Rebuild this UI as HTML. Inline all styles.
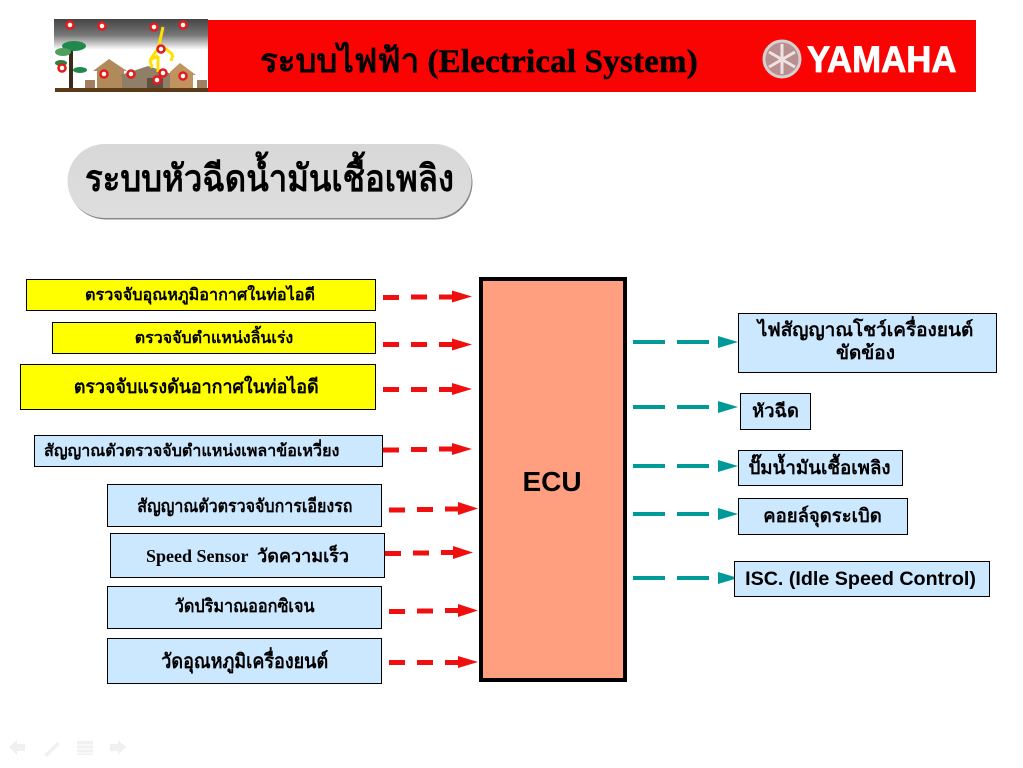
<!DOCTYPE html>
<html lang="th">
<head>
<meta charset="utf-8">
<style>
html,body{margin:0;padding:0;background:#fff;}
body{width:1023px;height:768px;position:relative;overflow:hidden;font-family:"Liberation Sans","Noto Sans CJK SC",sans-serif;color:#000;}
.b{position:absolute;box-sizing:border-box;border:1px solid #000;display:flex;align-items:center;justify-content:center;text-align:center;white-space:nowrap;overflow:visible;}
.y{background:#ffff00;}
.l{background:#cce8ff;}
.s{font-family:"Liberation Serif","Noto Serif CJK SC",serif;}
.t{position:absolute;white-space:nowrap;}
.n{display:inline-block;transform:scaleX(.89);}
svg{position:absolute;left:0;top:0;}
</style>
</head>
<body>
<div style="position:absolute;left:208px;top:20px;width:768px;height:72px;background:#f90303;"></div>
<svg width="1023" height="768" viewBox="0 0 1023 768">
  <defs>
    <linearGradient id="sky" x1="0" y1="0" x2="0" y2="1"><stop offset="0" stop-color="#454545"/><stop offset=".22" stop-color="#777"/><stop offset=".42" stop-color="#fff"/></linearGradient>
    <linearGradient id="pill" x1="0" y1="0" x2="0" y2="1"><stop offset="0" stop-color="#d8d8d8"/><stop offset="1" stop-color="#dedede"/></linearGradient>
  </defs>
  <!-- header picture -->
  <rect x="54" y="19" width="154" height="73" fill="url(#sky)"/>
  <g fill="#a08060"><rect x="85" y="80" width="10" height="8"/><rect x="197" y="80" width="10" height="8"/></g>
  <rect x="69" y="46" width="4" height="43" fill="#3a2a1a"/>
  <ellipse cx="74" cy="46" rx="12" ry="5" fill="#1f8a4c"/><ellipse cx="63" cy="52" rx="8" ry="4" fill="#4f9f5f"/>
  <ellipse cx="61" cy="63" rx="6" ry="3" fill="#2f7f3f"/><ellipse cx="80" cy="70" rx="7" ry="3" fill="#1f8a4c"/>
  <polygon points="93,71 109,59 127,71 124,71 124,89 97,89 97,71" fill="#b08a5a"/>
  <polygon points="118,76 148,66 178,76 174,76 174,89 122,89 122,76" fill="#8f7f68"/>
  <polygon points="170,72 180,63 196,75 193,75 193,89 170,89" fill="#c0935f"/>
  <rect x="147" y="78" width="16" height="11" fill="#5f5040"/>
  <rect x="55" y="88" width="153" height="4" fill="#5c3a17"/>
  <path d="M163 27L159 45M159 45L157 50L150 60M150 60L152 68M150 60L158 56M158 56L158 72M165 48L173 55M173 55L171 61" stroke="#ffe000" stroke-width="3" fill="none"/>
  <g fill="#fff" stroke="#e51a1a" stroke-width="2.500">
    <circle cx="70" cy="25" r="3.500"/><circle cx="102" cy="26" r="3.500"/><circle cx="154" cy="27" r="3.500"/><circle cx="183" cy="25" r="3.500"/>
    <circle cx="161" cy="49" r="3.500"/><circle cx="62" cy="68" r="3.500"/><circle cx="104" cy="74" r="3.500"/><circle cx="131" cy="74" r="3.500"/>
    <circle cx="163" cy="73" r="3.500"/><circle cx="157" cy="80" r="3.500"/><circle cx="183" cy="76" r="3.500"/>
  </g>
  <!-- yamaha emblem -->
  <circle cx="782" cy="59" r="18" fill="#b89090" stroke="#d8d0d0" stroke-width="3"/>
  <path d="M782 44V74M769 52L795 67M795 52L769 67" stroke="#eee2e2" stroke-width="3"/>
  <!-- pill -->
  <rect x="68.500" y="145.500" width="404" height="74" rx="37" fill="#888"/>
  <rect x="67.500" y="144" width="404" height="74" rx="37" fill="url(#pill)"/>
  <!-- nav -->
  <g fill="#f0f0f0">
    <polygon points="9,747 17,740 17,744 25,744 25,751 17,751 17,755"/>
    <polygon points="44,755 57,742 60,744 47,757"/>
    <rect x="77" y="741" width="16" height="14"/>
    <polygon points="126,747 118,740 118,744 110,744 110,751 118,751 118,755"/>
  </g>
  <g stroke="#fff"><path d="M77 745H93M77 749H93M77 753H93"/></g>
  <!-- ECU -->
  <rect x="481" y="279" width="144" height="401" fill="#ff9f80" stroke="#000" stroke-width="4"/>
  <!-- red arrows -->
  <g stroke="#f00f0f" stroke-width="5" fill="#f00f0f">
    <g><path d="M383 297.500H399M411 297H427M439 297H456" fill="none"/><polygon stroke="none" points="452,290.500 472,296.500 452,302.500"/></g>
    <g><path d="M383 344.500H399M411 344.500H427M439 344.500H456" fill="none"/><polygon stroke="none" points="452,338.500 472,344.500 452,350.500"/></g>
    <g><path d="M383 389.500H399M411 389.500H427M439 389.500H456" fill="none"/><polygon stroke="none" points="452,383 472,389 452,395"/></g>
    <g><path d="M383 450H399M411 449.500H427M439 449H456" fill="none"/><polygon stroke="none" points="452,443 472,449 452,455"/></g>
    <g><path d="M389 510H405M417 509.500H433M445 509H462" fill="none"/><polygon stroke="none" points="458,502 478,508.500 458,515"/></g>
    <g><path d="M385 553.500H401M413 553H429M441 552.500H458" fill="none"/><polygon stroke="none" points="453,546 473,552.500 453,559"/></g>
    <g><path d="M389 611.500H405M417 611H433M445 610.500H462" fill="none"/><polygon stroke="none" points="458,604 478,610.500 458,617"/></g>
    <g><path d="M389 662.500H405M417 662.500H433M445 662.500H462" fill="none"/><polygon stroke="none" points="458,656 478,662 458,668"/></g>
  </g>
  <!-- teal arrows -->
  <g stroke="#009999" stroke-width="4" fill="#009999">
    <path d="M633 342H665M677 342H709M633 407H665M677 407H709M633 466H665M677 466H709M633 514H665M677 514H709M633 578H665M677 578H709" fill="none"/>
    <g stroke="none">
      <polygon points="718,336 738,342 718,348"/>
      <polygon points="718,401 738,407 718,413"/>
      <polygon points="718,460 738,466 718,472"/>
      <polygon points="718,508 738,514 718,520"/>
      <polygon points="718,572 738,578 718,584"/>
    </g>
  </g>
</svg>

<div class="t s" style="left:260px;top:39px;font-size:33px;font-weight:bold;line-height:46px;">ระบบไฟฟ้า <span style="letter-spacing:.2px;-webkit-text-stroke:.5px #000;">(Electrical System)</span></div>
<div class="t" style="left:807px;top:38px;font-size:37px;line-height:44px;font-weight:bold;color:#fff;-webkit-text-stroke:.8px #fff;transform-origin:left top;transform:scaleX(.94);">YAMAHA</div>
<div class="t s" style="left:85px;top:154px;font-size:37px;line-height:52px;font-weight:bold;transform-origin:left top;transform:scaleX(.89);">ระบบหัวฉีดน้ำมันเชื้อเพลิง</div>

<div class="b y" style="left:26px;top:279px;width:350px;height:32px;font-size:16.200px;font-weight:bold;padding-right:2px;">ตรวจจับอุณหภูมิอากาศในท่อไอดี</div>
<div class="b y" style="left:52px;top:322px;width:324px;height:32px;font-size:16px;font-weight:bold;">ตรวจจับตำแหน่งลิ้นเร่ง</div>
<div class="b y s" style="left:20px;top:364px;width:356px;height:46px;font-size:19px;font-weight:bold;padding-right:4px;"><span class="n" style="transform:scaleX(.94);">ตรวจจับแรงดันอากาศในท่อไอดี</span></div>
<div class="b l" style="left:34px;top:435px;width:349px;height:32px;font-size:16.100px;font-weight:bold;justify-content:flex-start;padding-left:9px;">สัญญาณตัวตรวจจับตำแหน่งเพลาข้อเหวี่ยง</div>
<div class="b l s" style="left:107px;top:484px;width:275px;height:43px;font-size:18px;font-weight:bold;"><span class="n">สัญญาณตัวตรวจจับการเอียงรถ</span></div>
<div class="b l s" style="left:110px;top:533px;width:275px;height:45px;font-size:18px;font-weight:bold;">Speed Sensor &nbsp;วัดความเร็ว</div>
<div class="b l s" style="left:107px;top:586px;width:275px;height:43px;font-size:18px;font-weight:bold;padding-bottom:4px;"><span class="n" style="transform:scaleX(.9);">วัดปริมาณออกซิเจน</span></div>
<div class="b l s" style="left:107px;top:638px;width:275px;height:46px;font-size:20px;font-weight:bold;padding-bottom:1px;"><span class="n" style="transform:scaleX(.9);">วัดอุณหภูมิเครื่องยนต์</span></div>

<div class="t" style="left:478px;top:277px;width:148px;height:405px;display:flex;align-items:center;justify-content:center;font-size:28px;font-weight:bold;padding-top:4px;box-sizing:border-box;">ECU</div>

<div class="b l" style="left:738px;top:313px;width:259px;height:60px;font-size:19px;font-weight:bold;line-height:23px;padding-right:4px;padding-bottom:3px;">ไฟสัญญาณโชว์เครื่องยนต์<br>ขัดข้อง</div>
<div class="b l" style="left:740px;top:393px;width:71px;height:37px;font-size:18.300px;font-weight:bold;">หัวฉีด</div>
<div class="b l" style="left:738px;top:450px;width:165px;height:36px;font-size:18.700px;font-weight:bold;padding-right:2px;">ปั๊มน้ำมันเชื้อเพลิง</div>
<div class="b l" style="left:738px;top:498px;width:170px;height:37px;font-size:18.500px;font-weight:bold;padding-right:1px;">คอยล์จุดระเบิด</div>
<div class="b l" style="left:734px;top:561px;width:256px;height:36px;font-size:19.700px;font-weight:bold;padding-right:3px;">ISC. (Idle Speed Control)</div>
</body>
</html>
